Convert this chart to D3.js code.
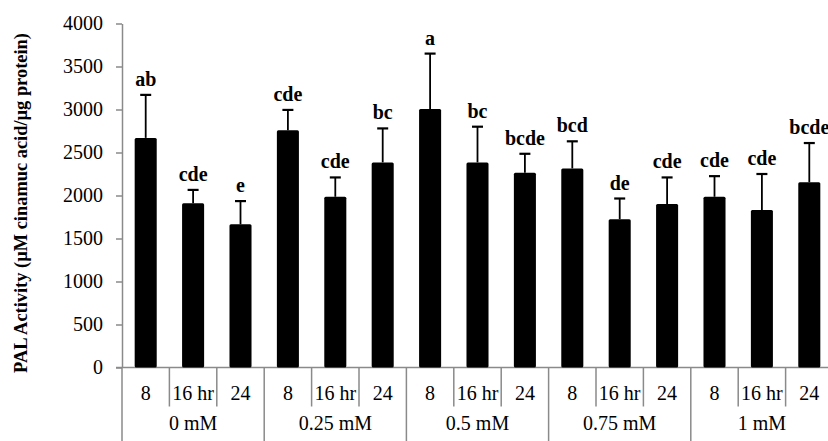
<!DOCTYPE html>
<html>
<head>
<meta charset="utf-8">
<script src="https://cdn.jsdelivr.net/npm/d3@7"></script>
<style>
  html, body { margin: 0; padding: 0; background: #fff; }
  svg { display: block; }
</style>
</head>
<body>
<svg id="chart" width="828" height="441"></svg>
<script>
// PAL activity by salicylic acid concentration and sampling time
const concentrations = ["0 mM", "0.25 mM", "0.5 mM", "0.75 mM", "1 mM"];
const times = ["8", "16 hr", "24"];
const means = [2670, 1910, 1665, 2760, 1985, 2385, 3005, 2385, 2265, 2315, 1725, 1900, 1985, 1830, 2155];
const errors = [500, 155, 270, 235, 225, 395, 645, 415, 220, 315, 240, 310, 240, 420, 455];
const letters = ["ab", "cde", "e", "cde", "cde", "bc", "a", "bc", "bcde", "bcd", "de", "cde", "cde", "cde", "bcde"];
const yTicks = [0, 500, 1000, 1500, 2000, 2500, 3000, 3500, 4000];

const svg = d3.select("#chart");
const serif = "'Liberation Serif', 'Times New Roman', serif";
const axisColor = "#8a8a8a";

const left = 122, step = 47.4;
const bars = means.map((v, i) => ({
  i, mean: v, err: errors[i], letter: letters[i],
  time: times[i % times.length],
  conc: concentrations[Math.floor(i / times.length)]
}));

const x = d3.scaleBand()
  .domain(bars.map(d => d.i))
  .range([left, left + step * bars.length])
  .paddingInner(0.535)
  .paddingOuter(0.2675);

const y = d3.scaleLinear().domain([0, 4000]).range([367.5, 23.5]);
const y0 = y(0);

// y axis with ticks on the left
const yAxis = svg.append("g")
  .attr("transform", `translate(${left},0)`)
  .call(d3.axisLeft(y).tickValues(yTicks).tickFormat(d3.format("d"))
    .tickSize(6).tickPadding(13).tickSizeOuter(0));
yAxis.select(".domain").attr("stroke", axisColor).attr("stroke-width", 1.5);
yAxis.selectAll(".tick line").attr("stroke", axisColor).attr("stroke-width", 1.5);
yAxis.selectAll(".tick text")
  .attr("font-family", serif).attr("font-size", 20).attr("fill", "#000");

// y axis extends below the baseline to frame the category table
svg.append("line")
  .attr("x1", left).attr("x2", left).attr("y1", y0).attr("y2", 441)
  .attr("stroke", axisColor).attr("stroke-width", 1.5);

// baseline
svg.append("line")
  .attr("x1", left - 6).attr("x2", 828).attr("y1", y0).attr("y2", y0)
  .attr("stroke", axisColor).attr("stroke-width", 1.5);

// bars
svg.append("g").selectAll("rect")
  .data(bars).join("rect")
  .attr("x", d => x(d.i))
  .attr("width", x.bandwidth())
  .attr("y", d => y(d.mean))
  .attr("height", d => y0 - y(d.mean))
  .attr("rx", 1.5)
  .attr("fill", "#000");

// upper error bars
const eb = svg.append("g").selectAll("g").data(bars).join("g");
eb.append("line")
  .attr("x1", d => x(d.i) + x.bandwidth() / 2)
  .attr("x2", d => x(d.i) + x.bandwidth() / 2)
  .attr("y1", d => y(d.mean))
  .attr("y2", d => y(d.mean + d.err))
  .attr("stroke", "#000").attr("stroke-width", 1.8);
eb.append("line")
  .attr("x1", d => x(d.i) + x.bandwidth() / 2 - 5.5)
  .attr("x2", d => x(d.i) + x.bandwidth() / 2 + 5.5)
  .attr("y1", d => y(d.mean + d.err))
  .attr("y2", d => y(d.mean + d.err))
  .attr("stroke", "#000").attr("stroke-width", 2.2);

// significance letters
svg.append("g").selectAll("text")
  .data(bars).join("text")
  .attr("x", d => x(d.i) + x.bandwidth() / 2)
  .attr("y", d => y(d.mean + d.err) - 9)
  .attr("text-anchor", "middle")
  .attr("font-family", serif).attr("font-size", 20).attr("font-weight", "bold")
  .attr("fill", "#000")
  .text(d => d.letter);

// time labels and the short dividers between them
const tickY = y0 + 39;
svg.append("g").selectAll("text")
  .data(bars).join("text")
  .attr("x", d => x(d.i) + x.bandwidth() / 2)
  .attr("y", y0 + 32)
  .attr("text-anchor", "middle")
  .attr("font-family", serif).attr("font-size", 20).attr("fill", "#000")
  .text(d => d.time);

const bandStart = i => left + step * i;
svg.append("g").selectAll("line")
  .data(bars.filter(d => d.i % times.length !== 0))
  .join("line")
  .attr("x1", d => bandStart(d.i)).attr("x2", d => bandStart(d.i))
  .attr("y1", y0).attr("y2", tickY)
  .attr("stroke", axisColor).attr("stroke-width", 1.5);

// concentration groups and their full-height dividers
svg.append("g").selectAll("line")
  .data(concentrations.map((c, k) => k + 1))
  .join("line")
  .attr("x1", k => bandStart(k * times.length)).attr("x2", k => bandStart(k * times.length))
  .attr("y1", y0).attr("y2", 441)
  .attr("stroke", axisColor).attr("stroke-width", 1.5);

svg.append("g").selectAll("text")
  .data(concentrations).join("text")
  .attr("x", (c, k) => bandStart(k * times.length) + step * times.length / 2)
  .attr("y", y0 + 62)
  .attr("text-anchor", "middle")
  .attr("font-family", serif).attr("font-size", 20).attr("fill", "#000")
  .text(c => c);

// y axis title
svg.append("text")
  .attr("transform", `translate(27,203) rotate(-90)`)
  .attr("text-anchor", "middle")
  .attr("font-family", serif).attr("font-size", 18.4).attr("font-weight", "bold")
  .attr("fill", "#000")
  .text("PAL Activity (µM cinamuc acid/µg protein)");
</script>
</body>
</html>
